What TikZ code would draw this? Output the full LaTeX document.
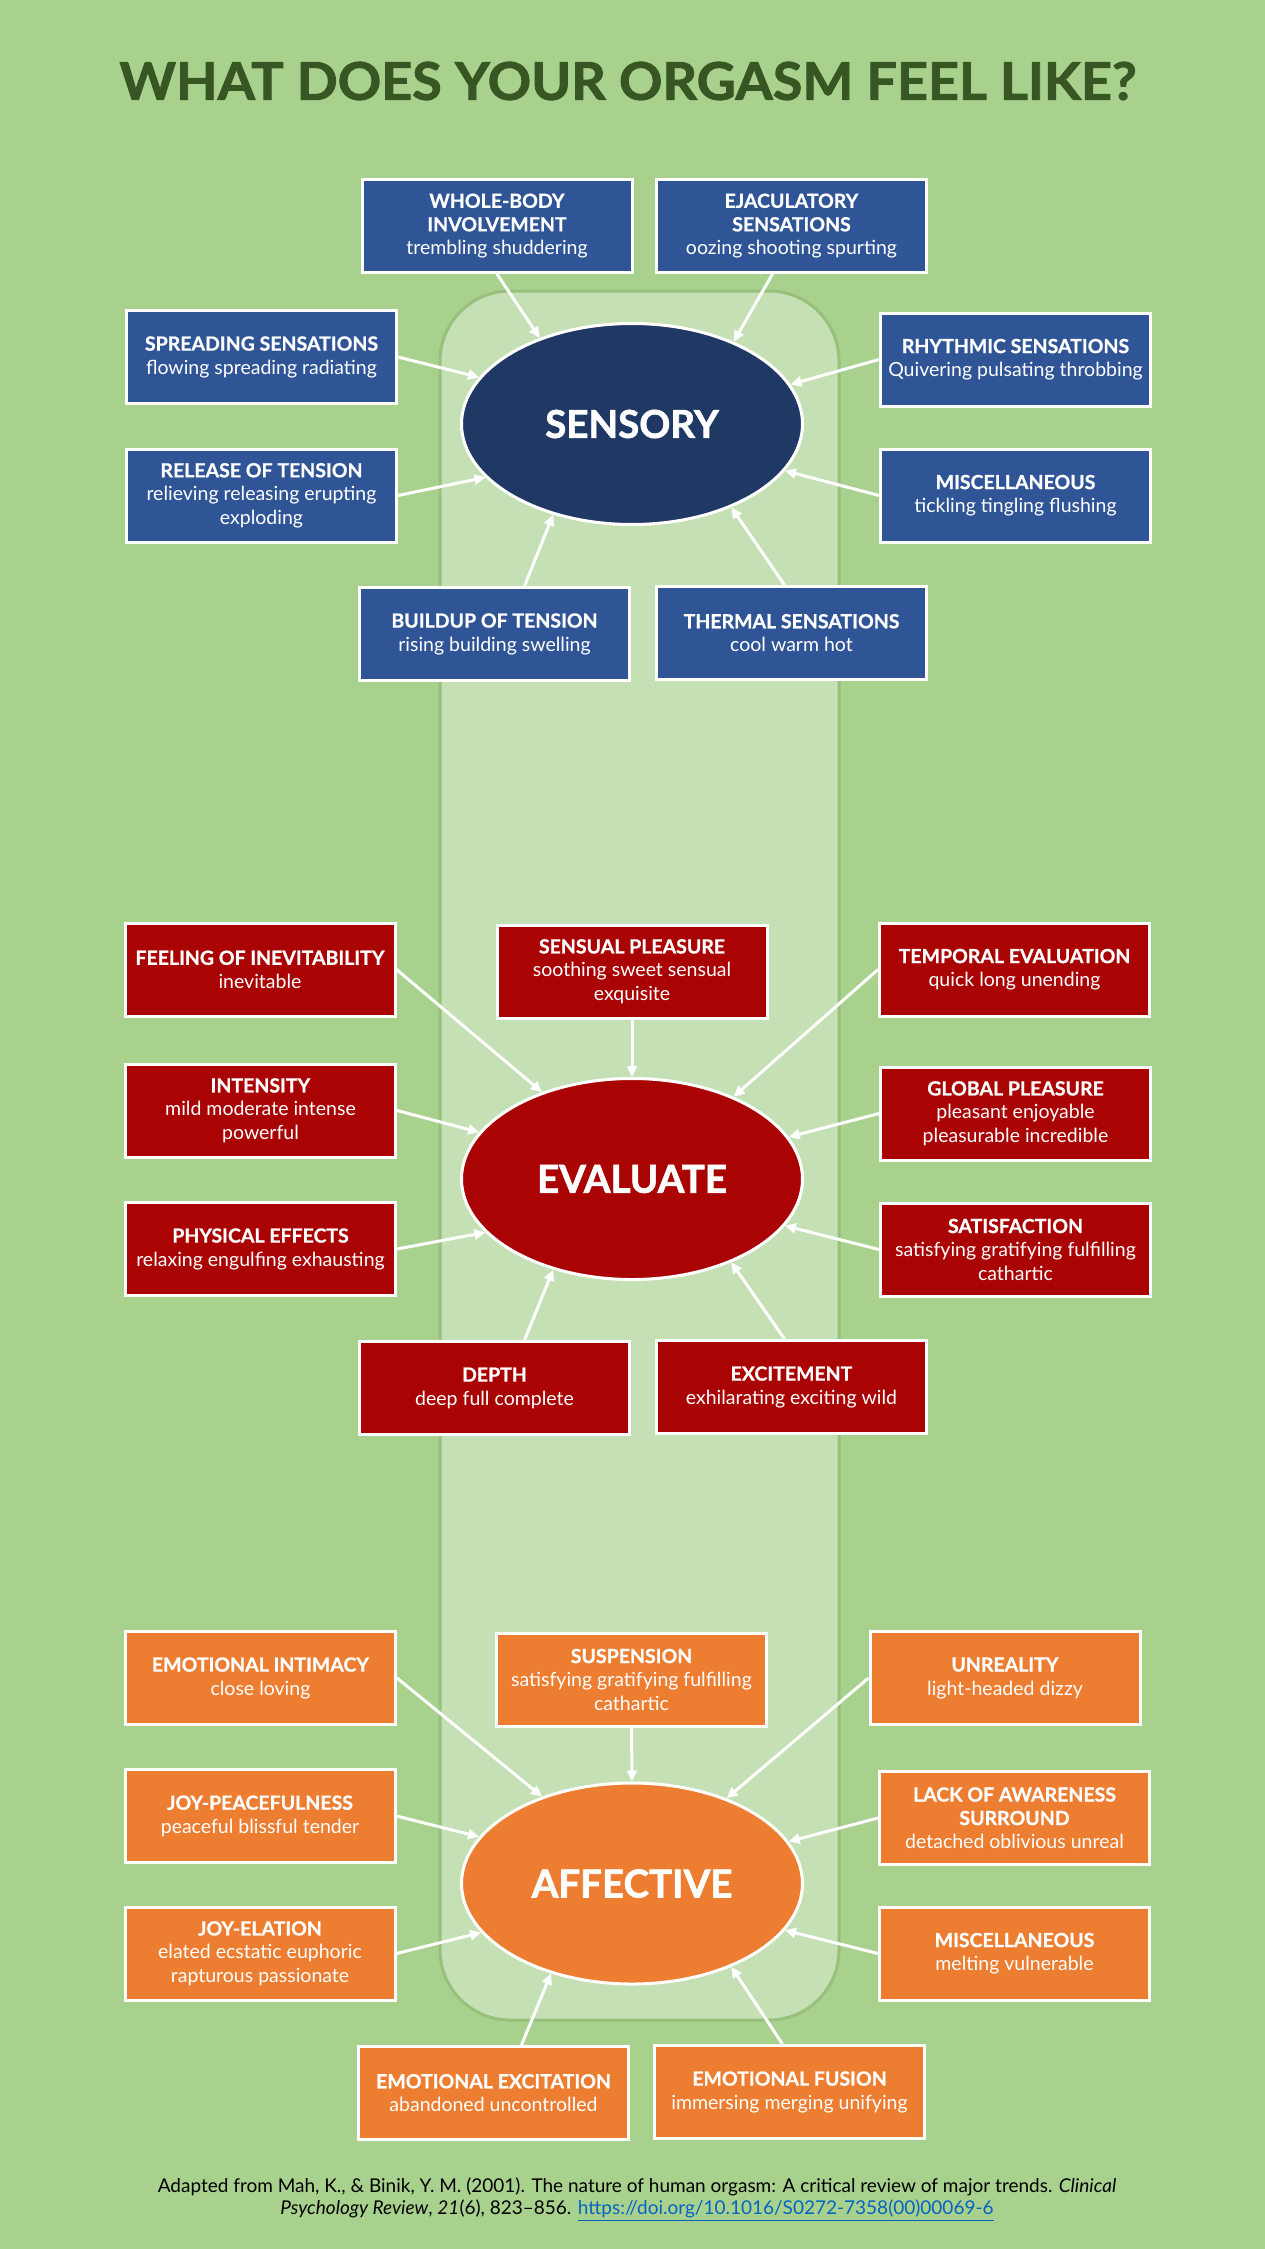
\documentclass[tikz,border=0pt]{standalone}
\usepackage{fontspec}
\setmainfont{Lato}[BoldFeatures={FakeBold=0.8}]
\newfontfamily\heavyfont{Lato}[BoldFeatures={FakeBold=1.6}]
\usetikzlibrary{arrows.meta,shapes.geometric}
\definecolor{bgc}{HTML}{A9D18E}
\definecolor{panelc}{HTML}{C5E0B4}
\definecolor{panelb}{HTML}{98C07D}
\definecolor{blueb}{HTML}{2F5597}
\definecolor{bluee}{HTML}{203864}
\definecolor{redb}{HTML}{AA0303}
\definecolor{orangeb}{HTML}{ED7D31}
\definecolor{titlec}{HTML}{375623}
\definecolor{linkc}{HTML}{0563C1}
\newcommand{\hd}[1]{\textbf{#1}}
\begin{document}
\begin{tikzpicture}[x=1pt,y=-1pt,
  card/.style={draw=white, line width=3pt, minimum width=270pt, minimum height=93pt,
    inner sep=2pt, align=center, text=white, font=\fontsize{19.5}{23.5}\selectfont},
  sbox/.style={card, fill=blueb},
  rbox/.style={card, fill=redb},
  obox/.style={card, fill=orangeb},
  hub/.style={ellipse, draw=white, line width=3pt, minimum width=341pt, minimum height=201pt,
    inner sep=0pt, text=white, font=\fontsize{38.5}{40}\selectfont\heavyfont\bfseries},
  conn/.style={draw=white, line width=3pt, -{Triangle[length=11pt,width=10pt]}}
]
\useasboundingbox (0,0) rectangle (1265,2249);
\fill[bgc] (0,0) rectangle (1265,2249);
\draw[fill=panelc, draw=panelb, line width=3pt, rounded corners=70pt] (440,291) rectangle (839,2020);

\node[text=titlec, inner sep=0pt] (title) at (628,81) {\resizebox{1017pt}{38pt}{\heavyfont\bfseries WHAT DOES YOUR ORGASM FEEL LIKE?}};

% ---------- SENSORY ----------
\node[hub, fill=bluee] (sen) at (632,424) {SENSORY};
\node[sbox] (wb) at (497,226) {\hd{WHOLE-BODY}\\\hd{INVOLVEMENT}\\trembling shuddering};
\node[sbox] (ej) at (791.5,226) {\hd{EJACULATORY}\\\hd{SENSATIONS}\\oozing shooting spurting};
\node[sbox] (sp) at (261.5,357) {\hd{SPREADING SENSATIONS}\\flowing spreading radiating};
\node[sbox] (rh) at (1015.5,359.5) {\hd{RHYTHMIC SENSATIONS}\\Quivering pulsating throbbing};
\node[sbox] (re) at (261.5,495.5) {\hd{RELEASE OF TENSION}\\relieving releasing erupting\\exploding};
\node[sbox] (mi) at (1015.5,495.5) {\hd{MISCELLANEOUS}\\tickling tingling flushing};
\node[sbox] (bu) at (494.5,634) {\hd{BUILDUP OF TENSION}\\rising building swelling};
\node[sbox] (th) at (791.5,633) {\hd{THERMAL SENSATIONS}\\cool warm hot};

\draw[conn] (wb.south) -- (sen.137);
\draw[conn] ([xshift=-19pt]ej.south) -- (sen.39);
\draw[conn] (sp.east) -- (sen.163.5);
\draw[conn] (rh.west) -- (sen.14);
\draw[conn] (re.east) -- (sen.200.6);
\draw[conn] (mi.west) -- (sen.343);
\draw[conn] ([xshift=30pt]bu.north) -- (sen.229);
\draw[conn] ([xshift=-7pt]th.north) -- (sen.320.4);

% ---------- EVALUATE ----------
\node[hub, fill=redb] (eva) at (632,1179) {EVALUATE};
\node[rbox] (fi) at (260,969.5) {\hd{FEELING OF INEVITABILITY}\\inevitable};
\node[rbox] (spl) at (632,971.5) {\hd{SENSUAL PLEASURE}\\soothing sweet sensual\\exquisite};
\node[rbox] (te) at (1014.5,969.5) {\hd{TEMPORAL EVALUATION}\\quick long unending};
\node[rbox] (in) at (260.5,1110.5) {\hd{INTENSITY}\\mild moderate intense\\powerful};
\node[rbox] (gp) at (1015.5,1113.5) {\hd{GLOBAL PLEASURE}\\pleasant enjoyable\\pleasurable incredible};
\node[rbox] (pe) at (260.5,1249) {\hd{PHYSICAL EFFECTS}\\relaxing engulfing exhausting};
\node[rbox] (sa) at (1015.5,1249.5) {\hd{SATISFACTION}\\satisfying gratifying fulfilling\\cathartic};
\node[rbox] (de) at (494.5,1388) {\hd{DEPTH}\\deep full complete};
\node[rbox] (ex) at (791.5,1387) {\hd{EXCITEMENT}\\exhilarating exciting wild};

\draw[conn] (fi.east) -- (eva.136.3);
\draw[conn] (spl.south) -- (eva.90);
\draw[conn] (te.west) -- (eva.39.4);
\draw[conn] (in.east) -- (eva.163.2);
\draw[conn] (gp.west) -- (eva.15.1);
\draw[conn] (pe.east) -- (eva.200.6);
\draw[conn] (sa.west) -- (eva.343.3);
\draw[conn] ([xshift=30pt]de.north) -- (eva.229.4);
\draw[conn] ([xshift=-7pt]ex.north) -- (eva.320.4);

% ---------- AFFECTIVE ----------
\node[hub, fill=orangeb] (aff) at (632,1883.5) {AFFECTIVE};
\node[obox] (ei) at (260.5,1678) {\hd{EMOTIONAL INTIMACY}\\close loving};
\node[obox] (su) at (631.5,1679.5) {\hd{SUSPENSION}\\satisfying gratifying fulfilling\\cathartic};
\node[obox] (un) at (1005,1678) {\hd{UNREALITY}\\light-headed dizzy};
\node[obox] (jp) at (260,1816) {\hd{JOY-PEACEFULNESS}\\peaceful blissful tender};
\node[obox] (la) at (1014.5,1818) {\hd{LACK OF AWARENESS}\\\hd{SURROUND}\\detached oblivious unreal};
\node[obox] (je) at (260,1953.5) {\hd{JOY-ELATION}\\elated ecstatic euphoric\\rapturous passionate};
\node[obox] (mi2) at (1014.5,1953.5) {\hd{MISCELLANEOUS}\\melting vulnerable};
\node[obox] (ee) at (493.5,2093) {\hd{EMOTIONAL EXCITATION}\\abandoned uncontrolled};
\node[obox] (ef) at (789.5,2092) {\hd{EMOTIONAL FUSION}\\immersing merging unifying};

\draw[conn] (ei.east) -- (aff.136.7);
\draw[conn] (su.south) -- (aff.90);
\draw[conn] (un.west) -- (aff.42);
\draw[conn] (jp.east) -- (aff.163.2);
\draw[conn] (la.west) -- (aff.15.3);
\draw[conn] (je.east) -- (aff.198.3);
\draw[conn] (mi2.west) -- (aff.343.3);
\draw[conn] ([xshift=28pt]ee.north) -- (aff.228.9);
\draw[conn] ([xshift=-7pt]ef.north) -- (aff.320.4);

% ---------- citation ----------
\node[align=center, font=\fontsize{19}{22.5}\selectfont, inner sep=0pt] (cite) at (637,2199)
 {Adapted from Mah, K., \& Binik, Y. M. (2001). The nature of human orgasm: A critical review of major trends. \textit{Clinical}\\
 \textit{Psychology Review}, \textit{21}(6), 823--856. \textcolor{linkc}{\underline{https://doi.org/10.1016/S0272-7358(00)00069-6}}};
\end{tikzpicture}
\end{document}
